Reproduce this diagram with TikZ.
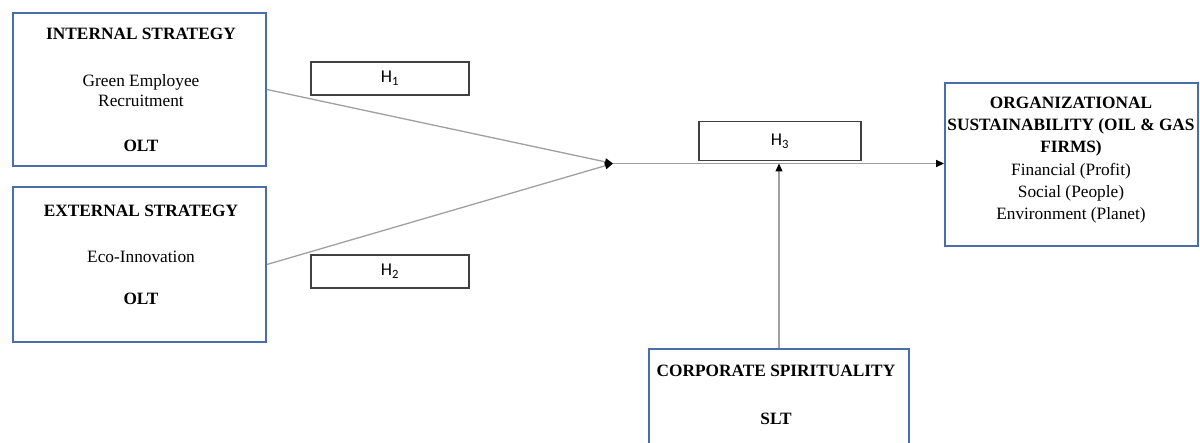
\documentclass[tikz,border=0pt]{standalone}
\usepackage{fontspec}
\setmainfont{Liberation Serif}
\newfontfamily\hfont{Carlito}
\usetikzlibrary{arrows.meta,calc}
\definecolor{boxblue}{HTML}{4A6EAA}
\definecolor{linegray}{HTML}{A0A0A0}
\begin{document}
\begin{tikzpicture}[x=1pt,y=-1pt,
  box/.style={draw=boxblue,line width=1.8pt,inner sep=0pt},
  hbox/.style={draw=black!75,line width=1.3pt,fill=white,inner sep=0pt,minimum width=158pt,minimum height=33pt,font=\hfont\fontsize{18}{20}\selectfont},
  lbl/.style={font=\fontsize{17.3}{20}\selectfont,inner sep=0pt,text height=0.68em,text depth=0.2em},
  blbl/.style={lbl,font=\bfseries\fontsize{17.3}{20}\selectfont},
  conn/.style={draw=linegray,line width=1.3pt},
  tip/.style={-{Triangle[length=8pt,width=7pt,color=black]}}
]
\useasboundingbox[fill=white] (0,0) rectangle (1200,443);

% boxes
\node[box,minimum width=253pt,minimum height=153pt] (int) at (139.5,89.5) {};
\node[box,minimum width=253pt,minimum height=155pt] (ext) at (139.5,264.5) {};
\node[box,minimum width=253pt,minimum height=163pt] (org) at (1071.5,164.5) {};
\node[box,minimum width=260pt,minimum height=111pt] (cs) at (779,404.5) {};

% texts
\node[blbl] (intt) at (141,37) {INTERNAL STRATEGY};
\node[lbl] (intg1) at (141,84) {Green Employee};
\node[lbl] (intg2) at (141,104) {Recruitment};
\node[blbl] (into) at (141,149) {OLT};

\node[blbl] (extt) at (141,214) {EXTERNAL STRATEGY};
\node[lbl] (exte) at (141,260) {Eco-Innovation};
\node[blbl] (exto) at (141,302) {OLT};

\node[blbl] (org1) at (1071,106) {ORGANIZATIONAL};
\node[blbl] (org2) at (1071,128) {SUSTAINABILITY (OIL \& GAS};
\node[blbl] (org3) at (1071,150) {FIRMS)};
\node[lbl] (org4) at (1071,173) {Financial (Profit)};
\node[lbl] (org5) at (1071,195) {Social (People)};
\node[lbl] (org6) at (1071,217) {Environment (Planet)};

\node[blbl] (cst) at (776,374) {CORPORATE SPIRITUALITY};
\node[blbl] (css) at (776,422) {SLT};

% junction
\coordinate (j) at (613,163.5);

% connectors
\draw[conn,tip] (j) -- (j -| org.west);
\draw[conn,tip] (int.east) -- (j);
\draw[conn,tip] (ext.east) -- (j);
\draw[conn,tip] (cs.north) -- (cs.north |- j);

% hypothesis boxes
\node[hbox] (h1) at (390,78.5) {H\textsubscript{1}};
\node[hbox] (h2) at (390,271.5) {H\textsubscript{2}};
\node[hbox,minimum width=162pt,minimum height=39pt] (h3) at (780,141) {H\textsubscript{3}};
\end{tikzpicture}
\end{document}
